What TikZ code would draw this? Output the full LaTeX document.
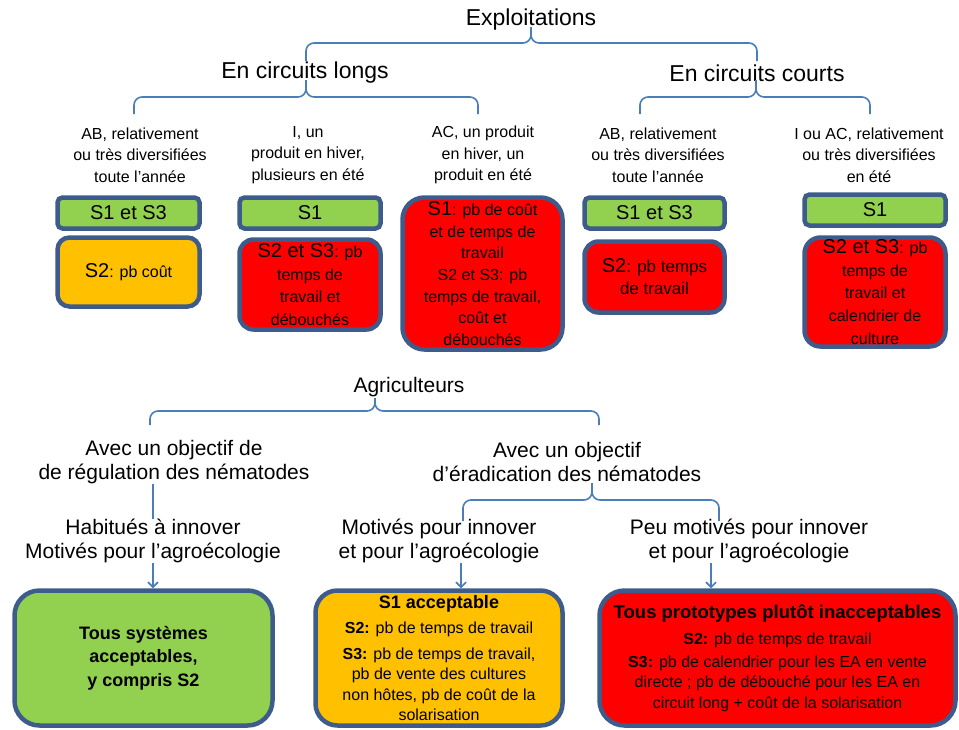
\documentclass[tikz,border=0pt]{standalone}
\usepackage{fontspec}
\setmainfont{Liberation Sans}
\usetikzlibrary{arrows.meta}
\definecolor{framec}{HTML}{3D5C8C}
\definecolor{bracec}{HTML}{4A7EBB}
\definecolor{okgreen}{HTML}{92D050}
\definecolor{midorange}{HTML}{FFC000}
\definecolor{badred}{HTML}{FF0000}
\newcommand\Sbig{\fontsize{20}{22}\selectfont}

\begin{document}
\begin{tikzpicture}[x=1pt,y=-1pt,
  head/.style={font=\fontsize{23}{26}\selectfont, inner sep=0pt},
  lab/.style={font=\fontsize{16}{21.5}\selectfont, align=center, inner sep=0pt},
  mid/.style={font=\fontsize{21}{23.5}\selectfont, align=center, inner sep=0pt},
  box/.style={draw=framec, line width=4.5pt, rounded corners=#1, align=center, inner sep=0pt, font=\fontsize{16}{22}\selectfont},
  box/.default=6pt,
  brace/.style={draw=bracec, line width=1.6pt, rounded corners=8pt},
  arr/.style={draw=bracec, line width=1.6pt, -{Straight Barb[length=5pt,width=10pt]}}]
\useasboundingbox (0,0) rectangle (959,729);

\node[head] (e) at (531,20) {Exploitations};
\node[head] (l) at (305,73) {En circuits longs};
\node[head] (c) at (757,73) {En circuits courts};

\node[lab] (c1) at (140,155) {AB, relativement\\ou très diversifiées\\toute l’année};
\node[lab] (c2) at (308,155) {I, un\\produit en hiver,\\plusieurs en été};
\node[lab] (c3) at (483,155) {AC, un produit\\en hiver, un\\produit en été};
\node[lab] (c4) at (658,155) {AB, relativement\\ou très diversifiées\\toute l’année};
\node[lab] (c5) at (869,155) {I ou AC, relativement\\ou très diversifiées\\en été};

\draw[brace] (306,61) |- (531,43) -- (531,27) (757,61) |- (531,43) -- (531,27);
\draw[brace] (134,114) |- (306,97) -- (306,80) (478,114) |- (306,97) -- (306,80);
\draw[brace] (640,114) |- (756,97) -- (756,80) (870,114) |- (756,97) -- (756,80);

\node[box=5pt, fill=okgreen, minimum width=142pt, minimum height=31pt, font=\Sbig] (g1) at (128.5,213) {S1 et S3};
\node[box=12pt, fill=midorange, minimum width=142pt, minimum height=69pt] (o1) at (128.5,272) {{\Sbig S2}: pb coût};
\node[box=5pt, fill=okgreen, minimum width=141pt, minimum height=31pt, font=\Sbig] (g2) at (310,213) {S1};
\node[box=14pt, fill=badred, minimum width=141pt, minimum height=90pt, font=\fontsize{16}{22.5}\selectfont] (r2) at (310,284.5) {{\Sbig S2 et S3}: pb\\temps de\\travail et\\débouchés};
\node[box=22pt, fill=badred, minimum width=160pt, minimum height=152pt, font=\fontsize{16}{21.7}\selectfont] (r3) at (482.5,273.5) {{\Sbig S1}: pb de coût\\et de temps de\\travail\\S2 et S3: pb\\temps de travail,\\coût et\\débouchés};
\node[box=5pt, fill=okgreen, minimum width=140pt, minimum height=31pt, font=\Sbig] (g4) at (654.5,213) {S1 et S3};
\node[box=14pt, fill=badred, minimum width=140pt, minimum height=71pt, font=\fontsize{17}{22}\selectfont] (r4) at (654.5,277) {{\Sbig S2}: pb temps\\de travail};
\node[box=5pt, fill=okgreen, minimum width=141pt, minimum height=31pt, font=\Sbig] (g5) at (875,210) {S1};
\node[box=16pt, fill=badred, minimum width=141pt, minimum height=109pt, font=\fontsize{16}{22.7}\selectfont] (r5) at (875,292) {{\Sbig S2 et S3}: pb\\temps de\\travail et\\calendrier de\\culture};

\node[mid] (a) at (409,387) {Agriculteurs};
\node[mid] (r) at (174,462) {Avec un objectif de\\de régulation des nématodes};
\node[mid] (d) at (567,462) {Avec un objectif\\d’éradication des nématodes};
\node[mid] (h) at (153,541) {Habitués à innover\\Motivés pour l’agroécologie};
\node[mid] (m) at (439,541) {Motivés pour innover\\et pour l’agroécologie};
\node[mid] (p) at (749,541) {Peu motivés pour innover\\et pour l’agroécologie};

\draw[brace] (150,425) |- (375,411) -- (375,398) (599,425) |- (375,411) -- (375,398);
\draw[brace] (463,521) |- (592,500) -- (592,483) (719,521) |- (592,500) -- (592,483);

\node[box=25pt, fill=okgreen, minimum width=258pt, minimum height=135pt, font=\fontsize{18}{23.5}\selectfont\bfseries] (G) at (143.5,658) {Tous systèmes\\acceptables,\\y compris S2};
\node[box=22pt, fill=midorange, minimum width=247pt, minimum height=135pt, font=\fontsize{16}{20.5}\selectfont] (O) at (439,658) {{\fontsize{18}{20.5}\selectfont\bfseries S1 acceptable}\\[5pt]{\bfseries S2:} pb de temps de travail\\[5pt]{\bfseries S3:} pb de temps de travail,\\pb de vente des cultures\\non hôtes, pb de coût de la\\solarisation};
\node[box=25pt, fill=badred, minimum width=356pt, minimum height=135pt, font=\fontsize{16}{20.5}\selectfont] (R) at (777.5,658) {{\fontsize{18.5}{20.5}\selectfont\bfseries Tous prototypes plutôt inacceptables}\\[6pt]{\bfseries S2:} pb de temps de travail\\[2pt]{\bfseries S3:} pb de calendrier pour les EA en vente\\directe ; pb de débouché pour les EA en\\circuit long + coût de la solarisation};

\draw[brace] (r.south -| h.north) -- (h.north);
\draw[arr] (h.south) -- (h.south |- G.north);
\draw[arr] (m.south -| 461,0) -- (O.north -| 461,0);
\draw[arr] (p.south -| 711,0) -- (R.north -| 711,0);
\end{tikzpicture}
\end{document}
